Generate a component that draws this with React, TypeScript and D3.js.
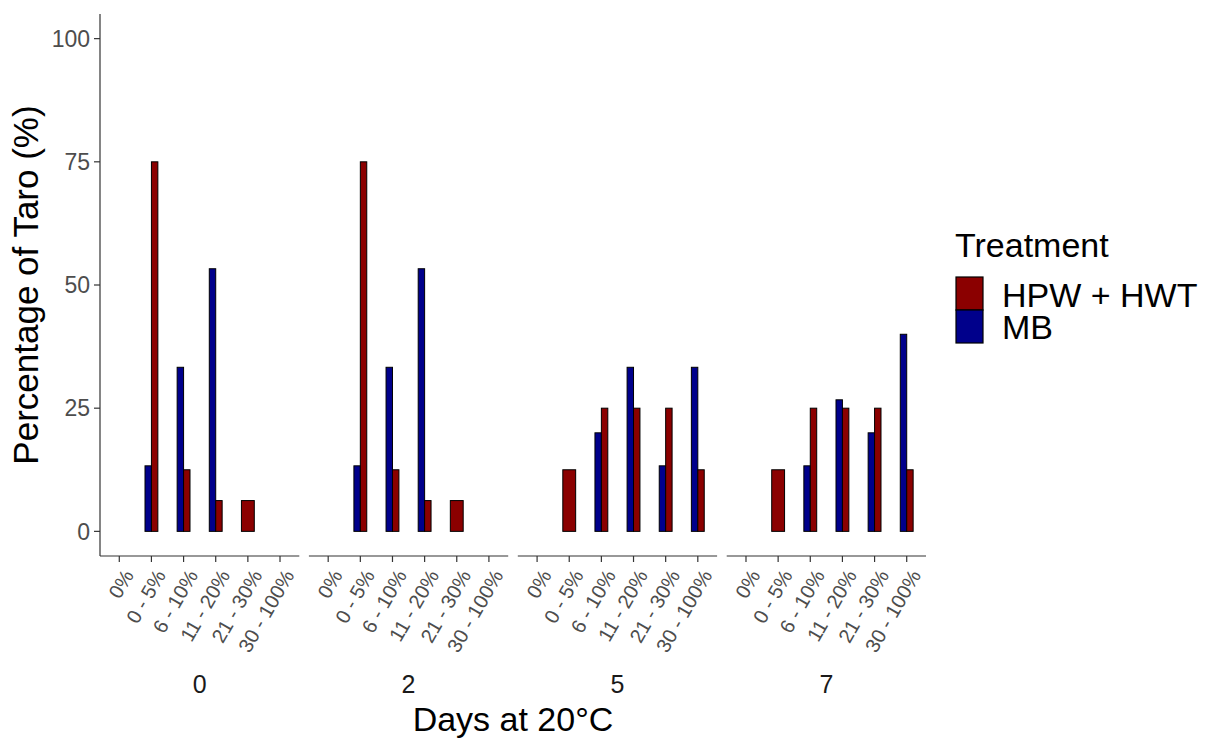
import React, { useEffect } from 'react';
import * as d3 from 'd3';

// facets (days at 20°C) and damage classes on the x axis
const days = ['0', '2', '5', '7'];
const classes = ['0%', '0 - 5%', '6 - 10%', '11 - 20%', '21 - 30%', '30 - 100%'];

// percentage of taro per class, one row per day (null = no bar)
const mbValues: (number | null)[][] = [
  [null, 13.3, 33.3, 53.3, null, null],
  [null, 13.3, 33.3, 53.3, null, null],
  [null, null, 20, 33.3, 13.3, 33.3],
  [null, null, 13.3, 26.7, 20, 40],
];
const hpwValues: (number | null)[][] = [
  [null, 75, 12.5, 6.25, 6.25, null],
  [null, 75, 12.5, 6.25, 6.25, null],
  [null, 12.5, 25, 25, 25, 12.5],
  [null, 12.5, 25, 25, 25, 12.5],
];

const yTicks = [0, 25, 50, 75, 100];
const treatments = ['HPW + HWT', 'MB'];
const colors: Record<string, string> = { 'HPW + HWT': '#8B0000', MB: '#00008B' };

const W = 1212;
const H = 738;
const FONT = '"Liberation Sans", Arial, sans-serif';

const App = () => {
  useEffect(() => {
    document.body.style.margin = '0';
  }, []);

  const plotLeft = 100;
  const plotRight = 926;
  const plotTop = 14;
  const plotBottom = 556;

  const facet = d3.scaleBand<string>()
    .domain(days)
    .range([plotLeft, plotRight])
    .paddingInner(0.046);

  const y = d3.scaleLinear().domain([-5, 105]).range([plotBottom, plotTop]);

  const bw = facet.bandwidth();
  const x = d3.scaleLinear().domain([-0.6, classes.length - 0.4]).range([0, bw]);
  const half = 0.2;

  const bars: { key: string; x0: number; x1: number; v: number; t: string }[] = [];
  days.forEach((d, di) => {
    const off = facet(d)!;
    classes.forEach((c, ci) => {
      const mb = mbValues[di][ci];
      const hp = hpwValues[di][ci];
      if (mb != null && hp != null) {
        bars.push({ key: `${d}-${c}-mb`, x0: off + x(ci - half), x1: off + x(ci), v: mb, t: 'MB' });
        bars.push({ key: `${d}-${c}-hp`, x0: off + x(ci), x1: off + x(ci + half), v: hp, t: 'HPW + HWT' });
      } else if (mb != null) {
        bars.push({ key: `${d}-${c}-mb`, x0: off + x(ci - half), x1: off + x(ci + half), v: mb, t: 'MB' });
      } else if (hp != null) {
        bars.push({ key: `${d}-${c}-hp`, x0: off + x(ci - half), x1: off + x(ci + half), v: hp, t: 'HPW + HWT' });
      }
    });
  });

  return (
    <svg width={W} height={H} style={{ display: 'block', background: '#fff' }} fontFamily={FONT}>
      {/* bars */}
      {bars.map(b => (
        <rect
          key={b.key}
          x={b.x0}
          y={y(b.v)}
          width={b.x1 - b.x0}
          height={y(0) - y(b.v)}
          fill={colors[b.t]}
          stroke="#000"
          strokeWidth={1}
        />
      ))}

      {/* y axis */}
      <line x1={plotLeft} x2={plotLeft} y1={plotTop} y2={plotBottom} stroke="#333" strokeWidth={1.2} />
      {yTicks.map(t => (
        <g key={t}>
          <line x1={plotLeft - 6} x2={plotLeft} y1={y(t)} y2={y(t)} stroke="#333" strokeWidth={1.2} />
          <text x={plotLeft - 10} y={y(t)} dy="0.36em" textAnchor="end" fontSize={23} fill="#4D4D4D">{t}</text>
        </g>
      ))}

      {/* x axes per facet */}
      {days.map(d => {
        const off = facet(d)!;
        return (
          <g key={d}>
            <line x1={off} x2={off + bw} y1={plotBottom} y2={plotBottom} stroke="#333" strokeWidth={1.2} />
            {classes.map((c, ci) => {
              const tx = off + x(ci);
              return (
                <g key={c}>
                  <line x1={tx} x2={tx} y1={plotBottom} y2={plotBottom + 6} stroke="#333" strokeWidth={1.2} />
                  <text
                    transform={`translate(${tx + 15},${plotBottom + 19}) rotate(-60)`}
                    textAnchor="end"
                    fontSize={20}
                    fill="#4D4D4D"
                  >
                    {c}
                  </text>
                </g>
              );
            })}
            <text x={off + bw / 2} y={693} textAnchor="middle" fontSize={25} fill="#1A1A1A">{d}</text>
          </g>
        );
      })}

      {/* axis titles */}
      <text x={(plotLeft + plotRight) / 2} y={731} textAnchor="middle" fontSize={34} fill="#000">Days at 20°C</text>
      <text transform={`translate(37.5,${(plotTop + plotBottom) / 2}) rotate(-90)`} textAnchor="middle" fontSize={35} fill="#000">
        Percentage of Taro (%)
      </text>

      {/* legend */}
      <text x={955} y={257} fontSize={34} fill="#000">Treatment</text>
      {treatments.map((t, i) => (
        <g key={t}>
          <rect x={956} y={277 + i * 33} width={27} height={33} fill={colors[t]} stroke="#000" strokeWidth={1.2} />
          <text x={1002} y={307 + i * 31.5} fontSize={34} fill="#000">{t}</text>
        </g>
      ))}
    </svg>
  );
};

export default App;
